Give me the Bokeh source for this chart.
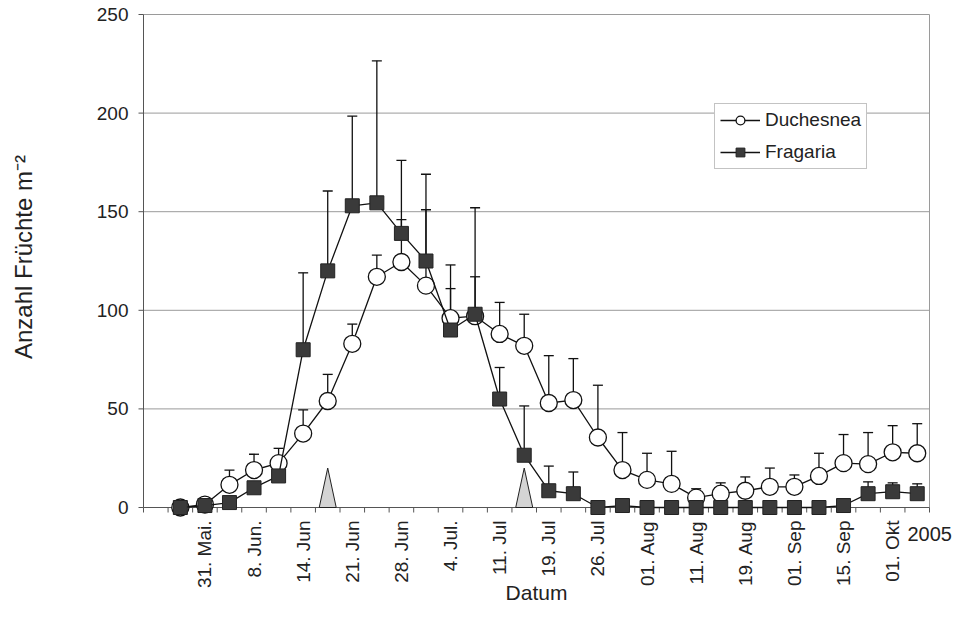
import math
from bokeh.plotting import figure
from bokeh.models import Range1d, Legend, LegendItem, ColumnDataSource
from bokeh.core.properties import value
from bokeh.embed import file_html
from bokeh.resources import INLINE

# ---------------- data ----------------
slots = list(range(1, 32))
duchesnea = [0, 1.5, 11.5, 19, 22.5, 37.5, 54, 83, 117, 124.5, 112.5, 96, 97, 88, 82,
             53, 54.5, 35.5, 19, 14, 12, 5, 7, 8.5, 10.5, 10.5, 16, 22.5, 22, 28, 27.5]
duchesnea_upper = [0, 1.5, 19, 27, 30, 49.5, 67.5, 93, 128, 146, 151, 123, 117, 104, 98,
                   77, 75.5, 62, 38, 27.5, 28.5, 9.5, 12.5, 15.5, 20, 16.5, 27.5, 37, 38, 41.5, 42.5]
fragaria = [0, 1, 2.5, 10, 16, 80, 120, 153, 154.5, 139, 125, 90, 98, 55, 26.5,
            8.5, 7, 0, 1, 0, 0, 0, 0, 0, 0, 0, 0, 1, 7, 8, 7]
fragaria_upper = [0, 1, 2.5, 10, 16, 119, 160.5, 198.5, 226.5, 176, 169, 111, 152, 71, 51.5,
                  21, 18, 0, 1, 0, 0, 0, 0, 0, 0, 0, 0, 1, 13, 12.5, 12]
label_slots = list(range(2, 31, 2))
tick_labels = ["31. Mai.", "8. Jun.", "14. Jun", "21. Jun", "28. Jun", "4. Jul.", "11. Jul",
               "19. Jul", "26. Jul", "01. Aug", "11. Aug", "19. Aug", "01. Sep", "15. Sep", "01. Okt"]
y_ticks = [0, 50, 100, 150, 200, 250]
event_slots = [7, 15]
event_height = 20
n_slots = 32
y_max = 250
year_text = "2005"
x_title = "Datum"
y_title = "Anzahl Früchte m⁻²"

# ---------------- layout (pixels) ----------------
W, H = 953, 606
PLOT_L, PLOT_R, PLOT_T, PLOT_B = 143, 929, 14, 507
PX_X = (PLOT_R - PLOT_L) / n_slots     # pixels per category slot
PX_Y = (PLOT_B - PLOT_T) / y_max       # pixels per unit

def dx(px):
    return px / PX_X

def dy(px):
    return px / PX_Y

FONT = value("Liberation Sans")
INK = "#111111"
AXIS = "#555555"
TXT = "#222222"
GRID = "#9a9a9a"

p = figure(width=W, height=H, output_backend="svg", toolbar_location=None,
           x_axis_location=None, y_axis_location=None,
           x_range=Range1d(-dx(PLOT_L), n_slots + dx(W - PLOT_R)),
           y_range=Range1d(-dy(H - PLOT_B), y_max + dy(PLOT_T)),
           min_border=0, min_border_left=0, min_border_right=0,
           min_border_top=0, min_border_bottom=0)
p.background_fill_color = "white"
p.border_fill_color = "white"
p.outline_line_color = None
for g in p.grid:
    g.visible = False

xc = [s + 0.5 for s in slots]

# horizontal grid lines and right border
gy = [t for t in y_ticks if t > 0]
p.segment(x0=[0] * len(gy), y0=gy, x1=[n_slots] * len(gy), y1=gy, line_color=GRID, line_width=1)
p.segment(x0=[n_slots], y0=[0], x1=[n_slots], y1=[y_max], line_color=GRID, line_width=1)

# y axis: line, ticks, labels, title
p.segment(x0=[0], y0=[0], x1=[0], y1=[y_max], line_color=AXIS, line_width=1)
p.segment(x0=[0] * len(y_ticks), y0=y_ticks, x1=[-dx(5)] * len(y_ticks), y1=y_ticks,
          line_color=AXIS, line_width=1)
p.text(x=[-dx(15)] * len(y_ticks), y=y_ticks, text=[str(t) for t in y_ticks],
       text_font=FONT, text_font_size="19px", text_color=TXT,
       text_align="right", text_baseline="middle")
p.text(x=[-dx(PLOT_L - 23)], y=[y_max / 2 + dy(4)], text=[y_title], angle=math.pi / 2,
       text_font=FONT, text_font_size="24px", text_color=TXT,
       text_align="center", text_baseline="middle")

# x axis: line, ticks between categories, rotated labels, title, year
tick_pos = list(range(n_slots + 1))
p.segment(x0=[0], y0=[0], x1=[n_slots], y1=[0], line_color=AXIS, line_width=1)
p.segment(x0=tick_pos, y0=[0] * len(tick_pos), x1=tick_pos, y1=[-dy(5)] * len(tick_pos),
          line_color=AXIS, line_width=1)
p.text(x=[s + 0.5 for s in label_slots], y=[-dy(13)] * len(label_slots), text=tick_labels,
       angle=math.pi / 2, text_font=FONT, text_font_size="19px", text_color=TXT,
       text_align="right", text_baseline="middle")
p.text(x=[n_slots / 2], y=[-dy(85)], text=[x_title], text_font=FONT, text_font_size="21px",
       text_color=TXT, text_align="center", text_baseline="middle")
p.text(x=[n_slots - dx(22)], y=[-dy(26)], text=[year_text], text_font=FONT, text_font_size="20px",
       text_color=TXT, text_align="left", text_baseline="middle")

# triangles (events)
tri_w = dx(8.5)
p.patches(xs=[[s + 0.5 - tri_w, s + 0.5, s + 0.5 + tri_w] for s in event_slots],
          ys=[[0, event_height, 0] for s in event_slots],
          fill_color="#d4d4d4", line_color="#222222", line_width=1)

# error bars
def errbars(vals, ups):
    keep = [(x, v, u) for x, v, u in zip(xc, vals, ups) if u > v]
    src = ColumnDataSource(dict(x=[k[0] for k in keep], y0=[k[1] for k in keep],
                                y1=[k[2] for k in keep]))
    p.segment(x0="x", y0="y0", x1="x", y1="y1", source=src, line_color=INK, line_width=1.3)
    p.scatter(x="x", y="y1", source=src, marker="dash", size=10, line_color=INK, line_width=1.3)

errbars(duchesnea, duchesnea_upper)
errbars(fragaria, fragaria_upper)

ds = ColumnDataSource(dict(x=xc, y=duchesnea))
fs = ColumnDataSource(dict(x=xc, y=fragaria))

dl = p.line("x", "y", source=ds, line_color=INK, line_width=1.3)
dm = p.scatter("x", "y", source=ds, marker="circle", size=17, fill_color="white",
               line_color=INK, line_width=1.3)
fl = p.line("x", "y", source=fs, line_color=INK, line_width=1.3)
fm = p.scatter("x", "y", source=fs, marker="square", size=14, fill_color="#3a3a3a",
               line_color="#222222", line_width=1)

legend = Legend(items=[LegendItem(label="Duchesnea", renderers=[dl, dm]),
                       LegendItem(label="Fragaria", renderers=[fl, fm])],
                location=(714, H - 169))
legend.label_text_font = "Liberation Sans"
legend.label_text_font_size = "19px"
legend.label_text_color = TXT
legend.glyph_width = 40
legend.glyph_height = 22
legend.label_height = 22
legend.label_standoff = 5
legend.spacing = 10
legend.padding = 5
legend.margin = 0
legend.border_line_color = "#888888"
legend.border_line_width = 1
legend.background_fill_color = "white"
legend.background_fill_alpha = 1
p.add_layout(legend, "center")

open("out.html", "w").write(file_html(p, INLINE))
